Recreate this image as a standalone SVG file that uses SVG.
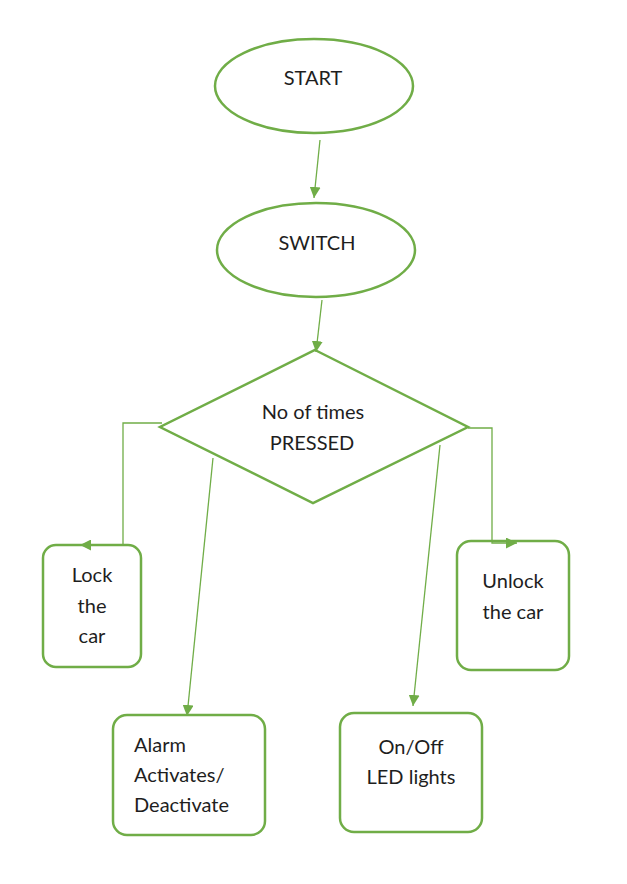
<svg xmlns="http://www.w3.org/2000/svg" width="627" height="884" viewBox="0 0 627 884">
<style>
.shape{fill:#fff;stroke:#70AD47;stroke-width:2.5}
.conn{fill:none;stroke:#70AD47;stroke-width:1.3}
.t{font-family:Lato,"Liberation Sans",sans-serif;font-size:20px;fill:#1e1e1e}
.c{text-anchor:middle}
</style>
<defs>
<marker id="ah" viewBox="0 0 10 10" refX="10" refY="5" markerWidth="11" markerHeight="11" markerUnits="userSpaceOnUse" orient="auto">
<path d="M0,0 L10,5 L0,10 Z" fill="#70AD47"/>
</marker>
</defs>
<rect width="627" height="884" fill="#fff"/>
<g id="start">
<ellipse class="shape" cx="314" cy="86" rx="99" ry="47"/>
<text class="t c" x="313" y="85">START</text>
</g>
<g id="switch">
<ellipse class="shape" cx="316" cy="250" rx="99" ry="47"/>
<text class="t c" x="317" y="250">SWITCH</text>
</g>
<g id="decision">
<polygon class="shape" points="315,350 468,427 313,503 160,427"/>
<text class="t c" x="313" y="419">No of times</text>
<text class="t c" x="312" y="450">PRESSED</text>
</g>
<g id="lock">
<rect class="shape" x="43" y="545" width="98" height="122" rx="13"/>
<text class="t c" x="92" y="582">Lock</text>
<text class="t c" x="92" y="613">the</text>
<text class="t c" x="92" y="643">car</text>
</g>
<g id="unlock">
<rect class="shape" x="457" y="541" width="112" height="129" rx="14"/>
<text class="t c" x="513" y="588">Unlock</text>
<text class="t c" x="513" y="619">the car</text>
</g>
<g id="alarm">
<rect class="shape" x="113" y="715" width="152" height="120" rx="14"/>
<text class="t" x="134" y="752">Alarm</text>
<text class="t" x="134" y="782">Activates/</text>
<text class="t" x="134" y="812">Deactivate</text>
</g>
<g id="led">
<rect class="shape" x="340" y="713" width="142" height="119" rx="14"/>
<text class="t c" x="411" y="754">On/Off</text>
<text class="t c" x="411" y="784">LED lights</text>
</g>
<g id="connectors">
<line class="conn" x1="320" y1="140" x2="314" y2="198" marker-end="url(#ah)"/>
<line class="conn" x1="322" y1="300" x2="316" y2="352" marker-end="url(#ah)"/>
<polyline class="conn" points="162,423 123,423 123,545 80,545" marker-end="url(#ah)"/>
<polyline class="conn" points="468,428 492,428 492,543 517,543" marker-end="url(#ah)"/>
<line class="conn" x1="213" y1="458" x2="187" y2="716" marker-end="url(#ah)"/>
<line class="conn" x1="440" y1="445" x2="413" y2="706" marker-end="url(#ah)"/>
</g>
</svg>
